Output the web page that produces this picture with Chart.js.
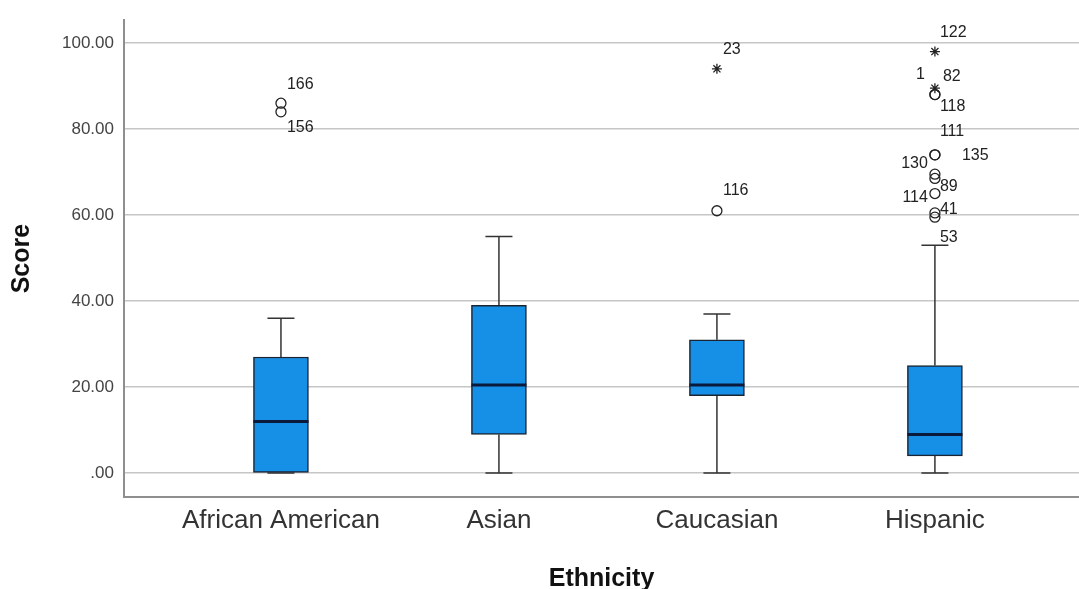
<!DOCTYPE html>
<html>
<head>
<meta charset="utf-8">
<script src="https://cdn.jsdelivr.net/npm/chart.js@4.4.1/dist/chart.umd.min.js"></script>
<style>
  html, body { margin: 0; padding: 0; background: #fff; overflow: hidden; }
  #wrap { width: 1079px; height: 589px; }
</style>
</head>
<body>
<div id="wrap"><canvas id="boxChart"></canvas></div>
<script>
// box statistics per ethnicity
const categories = ['African American', 'Asian', 'Caucasian', 'Hispanic'];
const whiskerLow = [0, 0, 0, 0];
const q1 = [0, 9, 18, 4];
const medians = [12, 20.5, 20.5, 9];
const q3 = [27, 39, 31, 25];
const whiskerHigh = [36, 55, 37, 53];

// outliers (group = index into categories)
const outlierGroup = [0, 0, 2, 2, 3, 3, 3, 3, 3, 3, 3, 3, 3, 3, 3];
const outlierValues = [86, 84, 94, 61, 98, 89.5, 88, 88, 74, 74, 69.5, 68.5, 65, 60.5, 59.5];
const outlierIds = ['166', '156', '23', '116', '122', '1', '82', '118', '111', '135', '130', '89', '114', '41', '53'];
const outlierExtreme = [false, false, true, false, true, true, false, false, false, false, false, false, false, false, false];

const yTicks = [0, 20, 40, 60, 80, 100];

// label placement next to each outlier: [dx, dy, align]
const labelPlace = {
  '166': [6, -19, 'left'], '156': [6, 16, 'left'], '23': [6, -19, 'left'], '116': [6, -20, 'left'],
  '122': [5, -19, 'left'], '1': [-10, -14, 'right'], '82': [8, -18, 'left'], '118': [5, 12, 'left'],
  '111': [5, -23, 'left'], '135': [27, 1, 'left'], '130': [-7, -11, 'right'], '89': [5, 8, 'left'],
  '114': [-7, 4, 'right'], '41': [5, -3, 'left'], '53': [5, 20, 'left']
};

const FONT = "'Liberation Sans', Arial, sans-serif";
const BOX_W = 55;
const CAP_W = 27;

const boxParts = {
  id: 'boxParts',
  beforeDatasetsDraw(chart) {
    const { ctx, scales: { x, y } } = chart;
    ctx.save();
    ctx.strokeStyle = '#333';
    ctx.lineWidth = 1.5;
    categories.forEach((c, i) => {
      const cx = x.getPixelForValue(i);
      const yl = y.getPixelForValue(whiskerLow[i]);
      const yh = y.getPixelForValue(whiskerHigh[i]);
      ctx.beginPath();
      ctx.moveTo(cx, y.getPixelForValue(q1[i]));
      ctx.lineTo(cx, yl);
      ctx.moveTo(cx, y.getPixelForValue(q3[i]));
      ctx.lineTo(cx, yh);
      ctx.moveTo(cx - CAP_W / 2, yl);
      ctx.lineTo(cx + CAP_W / 2, yl);
      ctx.moveTo(cx - CAP_W / 2, yh);
      ctx.lineTo(cx + CAP_W / 2, yh);
      ctx.stroke();
    });
    ctx.restore();
  },
  afterDatasetDraw(chart, args) {
    if (args.index !== 0) return;
    const { ctx, scales: { x, y } } = chart;
    ctx.save();
    ctx.strokeStyle = '#0b1a3a';
    ctx.lineWidth = 3;
    categories.forEach((c, i) => {
      const cx = x.getPixelForValue(i);
      const my = y.getPixelForValue(medians[i]);
      ctx.beginPath();
      ctx.moveTo(cx - BOX_W / 2, my);
      ctx.lineTo(cx + BOX_W / 2, my);
      ctx.stroke();
    });
    ctx.restore();
  },
  afterDatasetsDraw(chart) {
    const { ctx, scales: { x, y } } = chart;
    ctx.save();
    ctx.fillStyle = '#222';
    ctx.font = '16px ' + FONT;
    ctx.textBaseline = 'middle';
    outlierIds.forEach((id, k) => {
      const p = labelPlace[id] || [6, -18, 'left'];
      ctx.textAlign = p[2];
      ctx.fillText(id, x.getPixelForValue(outlierGroup[k]) + p[0], y.getPixelForValue(outlierValues[k]) + p[1]);
    });
    ctx.restore();
  }
};

const boxData = categories.map((c, i) => ({ x: i, y: [q1[i], q3[i]] }));
const outlierData = outlierValues.map((v, k) => ({ x: outlierGroup[k], y: v }));

const chart = new Chart(document.getElementById('boxChart'), {
  type: 'bar',
  data: {
    datasets: [
      {
        type: 'bar',
        data: boxData,
        backgroundColor: '#168fe6',
        borderColor: '#1a2433',
        borderWidth: 1.5,
        borderSkipped: false,
        barThickness: BOX_W,
        order: 2
      },
      {
        type: 'scatter',
        data: outlierData,
        pointStyle: ctx => outlierExtreme[ctx.dataIndex] ? 'star' : 'circle',
        pointRadius: 5,
        borderColor: '#222',
        backgroundColor: 'rgba(0,0,0,0)',
        borderWidth: 1.3,
        order: 1
      }
    ]
  },
  options: {
    responsive: true,
    maintainAspectRatio: false,
    animation: false,
    events: [],
    layout: { autoPadding: false, padding: { top: 18, right: 0, bottom: 0, left: 0 } },
    plugins: { legend: { display: false }, tooltip: { enabled: false } },
    scales: {
      x: {
        type: 'linear',
        offset: false,
        min: -0.72,
        max: 3.661,
        afterBuildTicks: s => { s.ticks = categories.map((c, i) => ({ value: i })); },
        afterFit: s => { s.height = 92; },
        grid: { display: false, drawTicks: false },
        border: { display: true, color: '#8f8f8f', width: 2 },
        ticks: {
          padding: 8,
          color: '#333',
          font: { family: FONT, size: 26 },
          callback: v => categories[v]
        },
        title: {
          display: true,
          text: 'Ethnicity',
          color: '#111',
          font: { family: FONT, size: 25, weight: 'bold' },
          padding: { top: 0, bottom: -5 }
        }
      },
      y: {
        min: -5.56,
        max: 105.3,
        afterBuildTicks: s => { s.ticks = yTicks.map(v => ({ value: v })); },
        afterFit: s => { s.width = 124; },
        grid: { color: '#c6c6c6', lineWidth: 1.5, drawTicks: false },
        border: { display: true, color: '#8f8f8f', width: 2 },
        ticks: {
          padding: 10,
          color: '#444',
          font: { family: FONT, size: 17 },
          callback: v => v === 0 ? '.00' : v.toFixed(2)
        },
        title: {
          display: true,
          text: 'Score',
          color: '#111',
          font: { family: FONT, size: 25, weight: 'bold' },
          padding: { top: 7, bottom: 0 }
        }
      }
    }
  },
  plugins: [boxParts]
});
</script>
</body>
</html>
